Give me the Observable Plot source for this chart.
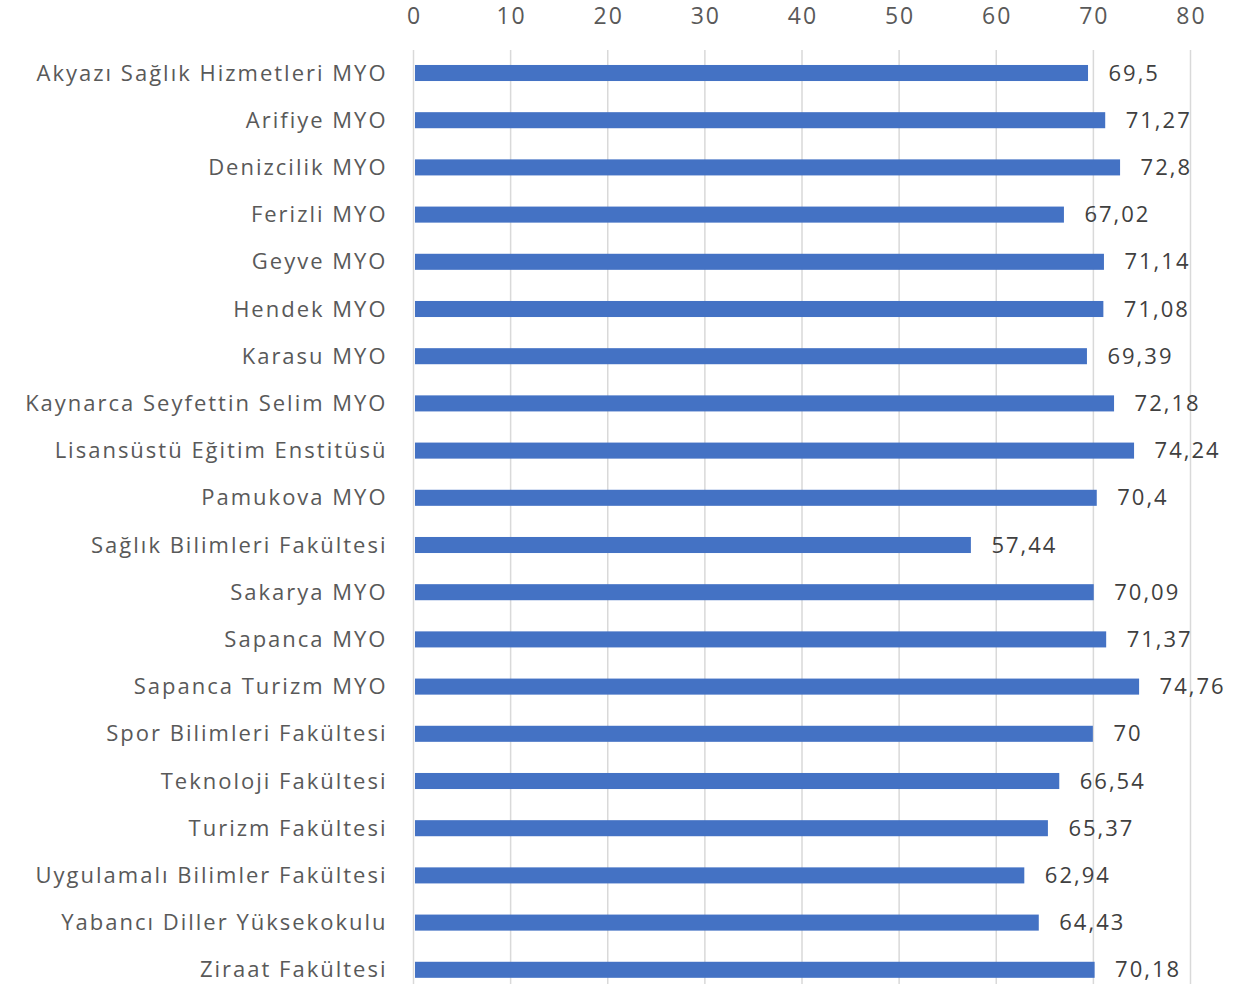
<!DOCTYPE html>
<html><head><meta charset="utf-8">
<script src="https://cdn.jsdelivr.net/npm/d3@7"></script>
<script src="https://cdn.jsdelivr.net/npm/@observablehq/plot@0.6"></script>
<style>html,body{margin:0;padding:0;background:#fff;overflow:hidden} svg text{letter-spacing:2px}</style>
</head><body><div id="chart"></div>
<script>
const categories = ["Akyazı Sağlık Hizmetleri MYO","Arifiye MYO","Denizcilik MYO","Ferizli MYO","Geyve MYO","Hendek MYO","Karasu MYO","Kaynarca Seyfettin Selim MYO","Lisansüstü Eğitim Enstitüsü","Pamukova MYO","Sağlık Bilimleri Fakültesi","Sakarya MYO","Sapanca MYO","Sapanca Turizm MYO","Spor Bilimleri Fakültesi","Teknoloji Fakültesi","Turizm Fakültesi","Uygulamalı Bilimler Fakültesi","Yabancı Diller Yüksekokulu","Ziraat Fakültesi"];
const values = [69.5,71.27,72.8,67.02,71.14,71.08,69.39,72.18,74.24,70.4,57.44,70.09,71.37,74.76,70,66.54,65.37,62.94,64.43,70.18];
const xTicks = [0,10,20,30,40,50,60,70,80];

const data = categories.map((c,i)=>({name:c, value:values[i]}));
const fmt = v => String(v).replace(".", ",");
const font = "'Open Sans', 'Noto Sans', sans-serif";

const chart = Plot.plot({
  width: 1234, height: 984,
  marginLeft: 413, marginRight: 44, marginTop: 50, marginBottom: 0,
  style: {fontFamily: font, fontSize: "22px", color: "#595959", background: "#fff"},
  x: {domain: [0, 80], ticks: xTicks, axis: null},
  y: {domain: categories, range: [49.4, 993.4], paddingInner: 0.66, paddingOuter: 0.33, round: false, axis: null},
  marks: [
    Plot.ruleX(xTicks, {stroke: "#d9d9d9", strokeWidth: 1.5}),
    Plot.axisX({anchor: "top", ticks: xTicks, tickSize: 0, tickPadding: 27, fontSize: 23, fill: "#595959", label: null, dx: 1}),
    Plot.axisY({anchor: "left", tickSize: 0, tickPadding: 26, fontSize: 22, fill: "#595959", label: null}),
    Plot.barX(data, {x: "value", y: "name", fill: "#4472C4", insetLeft: 2}),
    Plot.text(data, {x: "value", y: "name", text: d => fmt(d.value), textAnchor: "start", dx: 20, fontSize: 22, fill: "#404040"})
  ]
});
document.getElementById("chart").appendChild(chart);
</script></body></html>
